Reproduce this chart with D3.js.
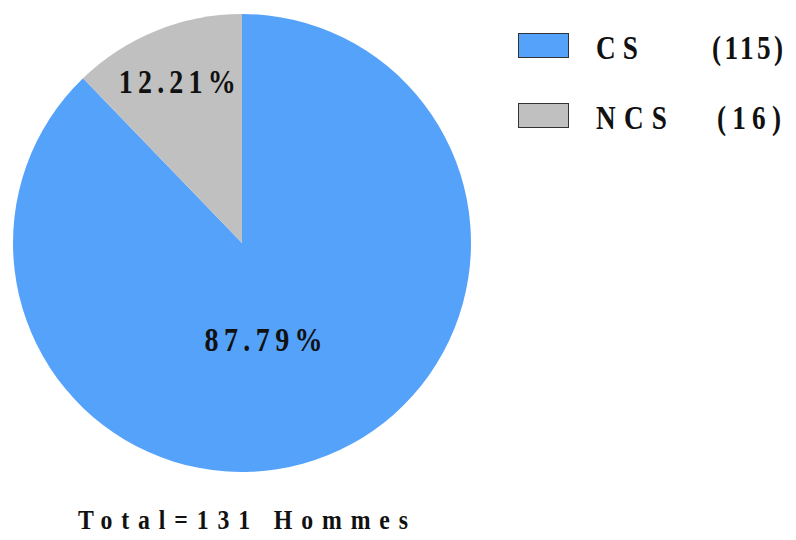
<!DOCTYPE html>
<html>
<head>
<meta charset="utf-8">
<script src="https://cdn.jsdelivr.net/npm/d3@7"></script>
<style>
  body { margin: 0; background: #fff; }
  text { font-family: "Liberation Serif", "Times New Roman", serif; font-weight: bold; fill: #111; }
</style>
</head>
<body>
<div id="pieChart"></div>
<script>
// data
const categories = ["CS", "NCS"];
const values = [115, 16];
const colors = ["#55a2fb", "#c0c0c0"];
const totalLabel = "Total=131 Hommes";

const width = 796;
const height = 540;

const svg = d3.select('#pieChart')
  .append('svg')
    .attr('width', width)
    .attr('height', height);

const cx = 242, cy = 243, radius = 229;
const total = d3.sum(values);
const fmt = d3.format('.2f');

const data = categories.map((c, i) => ({ cat: c, value: values[i], color: colors[i] }));

const pie = d3.pie()
    .sort(null)
    .value(d => d.value);

const arcs = pie(data);

const arc = d3.arc()
    .innerRadius(0)
    .outerRadius(radius);

const g = svg.append('g')
    .attr('transform', `translate(${cx},${cy})`);

g.selectAll('path')
  .data(arcs)
  .join('path')
    .attr('d', arc)
    .attr('fill', d => d.data.color);

// percent labels: radius fraction + small nudge per slice
const labelR = [0.45, 0.755];
const labelNudge = [[-17, 2], [0, 0]];
const labelWidth = [118, 117];
const sx = 0.85;

g.selectAll('text.pct')
  .data(arcs)
  .join('text')
    .attr('class', 'pct')
    .each(function(d, i) {
      const r = radius * labelR[i];
      const a = (d.startAngle + d.endAngle) / 2;
      const x = Math.sin(a) * r + labelNudge[i][0];
      const y = -Math.cos(a) * r + labelNudge[i][1];
      d3.select(this)
        .attr('transform', `translate(${x},${y + 10}) scale(${sx},1)`)
        .attr('text-anchor', 'middle')
        .attr('font-size', 33)
        .attr('textLength', labelWidth[i] / sx)
        .attr('lengthAdjust', 'spacing')
        .text(fmt(d.data.value / total * 100) + '%');
    });

// legend
const legend = svg.append('g');
const legendY = d3.scaleBand().domain(categories).range([33, 173]).paddingInner(0);
const catWidth = [42, 71];
const cntX = [712, 717];
const cntWidth = [71, 64];
const lsx = 0.8;

const rows = legend.selectAll('g')
  .data(data)
  .join('g')
    .attr('transform', d => `translate(0,${legendY(d.cat)})`);

rows.append('rect')
    .attr('x', 518.5)
    .attr('y', 0.5)
    .attr('width', 50)
    .attr('height', 24)
    .attr('fill', d => d.color)
    .attr('stroke', '#333')
    .attr('stroke-width', 1);

rows.append('text')
    .attr('transform', `translate(596,26) scale(${lsx},1)`)
    .attr('font-size', 34)
    .attr('textLength', (d, i) => catWidth[i] / lsx)
    .attr('lengthAdjust', 'spacing')
    .text(d => d.cat.split('').join(' '));

rows.append('text')
    .attr('transform', (d, i) => `translate(${cntX[i]},26) scale(${lsx},1)`)
    .attr('font-size', 34)
    .attr('textLength', (d, i) => cntWidth[i] / lsx)
    .attr('lengthAdjust', 'spacing')
    .text(d => `(${d.value})`);

// footer
svg.append('text')
    .attr('transform', 'translate(78,529) scale(0.85,1)')
    .attr('font-size', 28)
    .attr('textLength', 330 / 0.85)
    .attr('lengthAdjust', 'spacing')
    .text(totalLabel);
</script>
</body>
</html>
